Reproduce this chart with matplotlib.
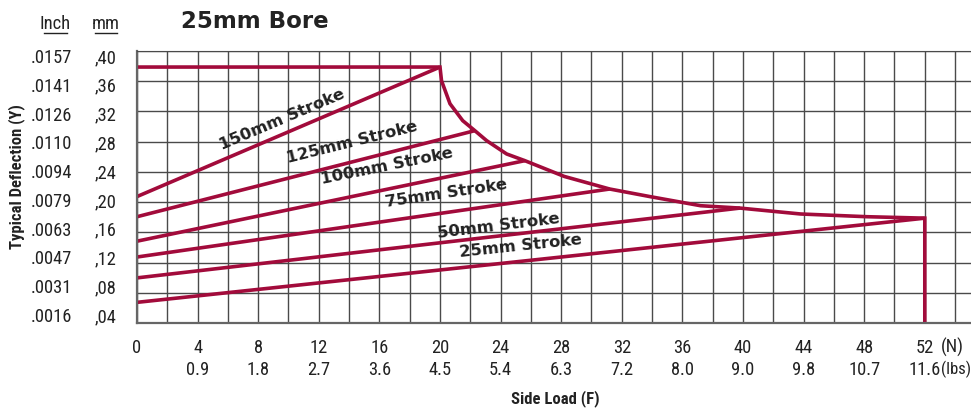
import matplotlib
matplotlib.use('Agg')
import matplotlib.pyplot as plt
from matplotlib import font_manager
from matplotlib.lines import Line2D

# ---- data ----
load_n = [0, 4, 8, 12, 16, 20, 24, 28, 32, 36, 40, 44, 48, 52]
load_lbs = ['', '0.9', '1.8', '2.7', '3.6', '4.5', '5.4', '6.3', '7.2', '8.0',
            '9.0', '9.8', '10.7', '11.6']
defl_mm = [0.04, 0.08, 0.12, 0.16, 0.20, 0.24, 0.28, 0.32, 0.36, 0.40]
defl_mm_labels = [',04', ',08', ',12', ',16', ',20', ',24', ',28', ',32', ',36', ',40']
defl_inch_labels = ['.0016', '.0031', '.0047', '.0063', '.0079', '.0094',
                    '.0110', '.0126', '.0141', '.0157']

strokes = ['150mm Stroke', '125mm Stroke', '100mm Stroke', '75mm Stroke',
           '50mm Stroke', '25mm Stroke']
stroke_start = [0.206, 0.178, 0.144, 0.122, 0.093, 0.059]
stroke_end_load = [20.0, 22.3, 25.6, 31.2, 39.8, 52.0]
stroke_end_defl = [0.386, 0.2976, 0.2559, 0.2165, 0.190, 0.176]

# limit curve (deflection vs load)
limit_load = [0, 20.0, 20.1, 20.66, 21.5, 22.3, 23.08, 24.4, 25.6, 28.2, 31.2,
              33.9, 37.2, 39.8, 43.8, 48.2, 52.0, 52.0]
limit_defl = [0.386, 0.386, 0.367, 0.335, 0.3115, 0.2976, 0.2837, 0.2652, 0.2559,
              0.234, 0.2165, 0.2058, 0.1933, 0.190, 0.1818, 0.178, 0.176, 0.0]

# label placement (load, deflection, angle)
label_x = [9.57, 14.19, 16.5, 20.4, 23.83, 25.35]
label_y = [0.3138, 0.2832, 0.2499, 0.2123, 0.1665, 0.1387]
label_rot = [23, 14, 11.5, 8.5, 7, 6]

red = '#a20b3b'
grid_c = '#4a4a4a'
txt_c = '#222222'


# pick narrow fonts (regular and bold) if installed
def wnum(w):
    if isinstance(w, str):
        return font_manager.weight_dict.get(w, 400)
    return w


narrow_stretch = ('condensed', 'extra-condensed', 'ultra-condensed', 'semi-condensed')
cands = [f for f in font_manager.fontManager.ttflist
         if str(f.stretch) in narrow_stretch or 'Narrow' in f.name or 'Condensed' in f.name]
prefs = ['Liberation Sans Narrow', 'Noto Sans', 'Roboto', 'Open Sans', 'DejaVu Sans', '']


def pick(lo, hi, fallback):
    for pref in prefs:
        hit = [f for f in cands if f.name.startswith(pref) and lo <= wnum(f.weight) <= hi
               and f.style == 'normal']
        if hit:
            hit.sort(key=lambda f: abs(wnum(f.weight) - (lo + hi) / 2))
            return dict(family=hit[0].name, stretch=hit[0].stretch, weight=wnum(hit[0].weight))
    return fallback


nfont = pick(400, 500, dict(family='Roboto', weight='normal'))
bfont = pick(600, 800, dict(family='Roboto', weight='bold'))
fs = 13.3

W, H = 971, 414
fig = plt.figure(figsize=(W / 100, H / 100), dpi=100)
ax = fig.add_axes([137 / W, 1 - 324 / H, 1 - 137 / W, (324 - 52) / H])

ylo, yhi = 0.0303, 0.4083
ax.set_xlim(0, 55.05)
ax.set_ylim(ylo, yhi)

# grid
ax.set_xticks(range(0, 56, 2), minor=True)
ax.set_yticks([ylo + k * (yhi - ylo) / 9 for k in range(10)], minor=True)
ax.xaxis.grid(True, which='both', color=grid_c, lw=1.0)
ax.yaxis.grid(True, which='minor', color=grid_c, lw=1.0)
ax.tick_params(which='both', length=0)
ax.set_xticks(load_n)
ax.set_xticklabels([str(v) for v in load_n], fontsize=fs, color=txt_c, **nfont)
ax.tick_params(axis='x', pad=11)
ax.set_yticks(defl_mm)
ax.set_yticklabels([])
for s in ['left', 'bottom']:
    ax.spines[s].set_color('#666666')
    ax.spines[s].set_linewidth(1.6)
ax.spines['top'].set_color(grid_c)
ax.spines['right'].set_visible(False)

# lines
for i in range(len(strokes)):
    ax.plot([0, stroke_end_load[i]], [stroke_start[i], stroke_end_defl[i]],
            color=red, lw=2.6, solid_capstyle='butt')
    ax.text(label_x[i], label_y[i], strokes[i], rotation=label_rot[i],
            rotation_mode='anchor', ha='center', va='center',
            fontsize=11.8, fontweight='bold', color=txt_c)
ax.plot(limit_load, limit_defl, color=red, lw=2.6, solid_joinstyle='miter')

# y labels (two unit columns)
ytr = ax.get_yaxis_transform()
for v, mm, inch in zip(defl_mm, defl_mm_labels, defl_inch_labels):
    ax.text(-0.0504, v, mm, transform=ytr, ha='left', va='center',
            fontsize=fs, color=txt_c, **nfont)
    ax.text(-0.0779, v, inch, transform=ytr, ha='right', va='center',
            fontsize=fs, color=txt_c, **nfont)

# lbs row
xtr = ax.get_xaxis_transform()
for v, lb in zip(load_n, load_lbs):
    ax.text(v, -0.168, lb, transform=xtr, ha='center', va='center',
            fontsize=fs, color=txt_c, **nfont)
ax.text(54.6, -0.086, '(N)', transform=xtr, ha='right', va='center',
        fontsize=fs, color=txt_c, **nfont)
ax.text(55.03, -0.168, '(lbs)', transform=xtr, ha='right', va='center',
        fontsize=12, color=txt_c, **nfont)

# headers
fig.text(55 / W, 1 - 24 / H, 'Inch', ha='center', va='center', fontsize=fs,
         color=txt_c, **nfont)
fig.text(106 / W, 1 - 24 / H, 'mm', ha='center', va='center', fontsize=fs,
         color=txt_c, **nfont)
fig.add_artist(Line2D([44 / W, 67 / W], [1 - 34 / H] * 2, color=txt_c, lw=1))
fig.add_artist(Line2D([95 / W, 117 / W], [1 - 34 / H] * 2, color=txt_c, lw=1))

fig.text(181 / W, 1 - 21 / H, '25mm Bore', ha='left', va='center',
         fontsize=16.5, fontweight='bold', color=txt_c)
fig.text(17 / W, 1 - 177 / H, 'Typical Deflection (Y)', rotation=90,
         ha='center', va='center', fontsize=12, color=txt_c, **bfont)
fig.text(555 / W, 1 - 399 / H, 'Side Load (F)', ha='center', va='center',
         fontsize=12, color=txt_c, **bfont)

fig.savefig('out.png', dpi=100)
